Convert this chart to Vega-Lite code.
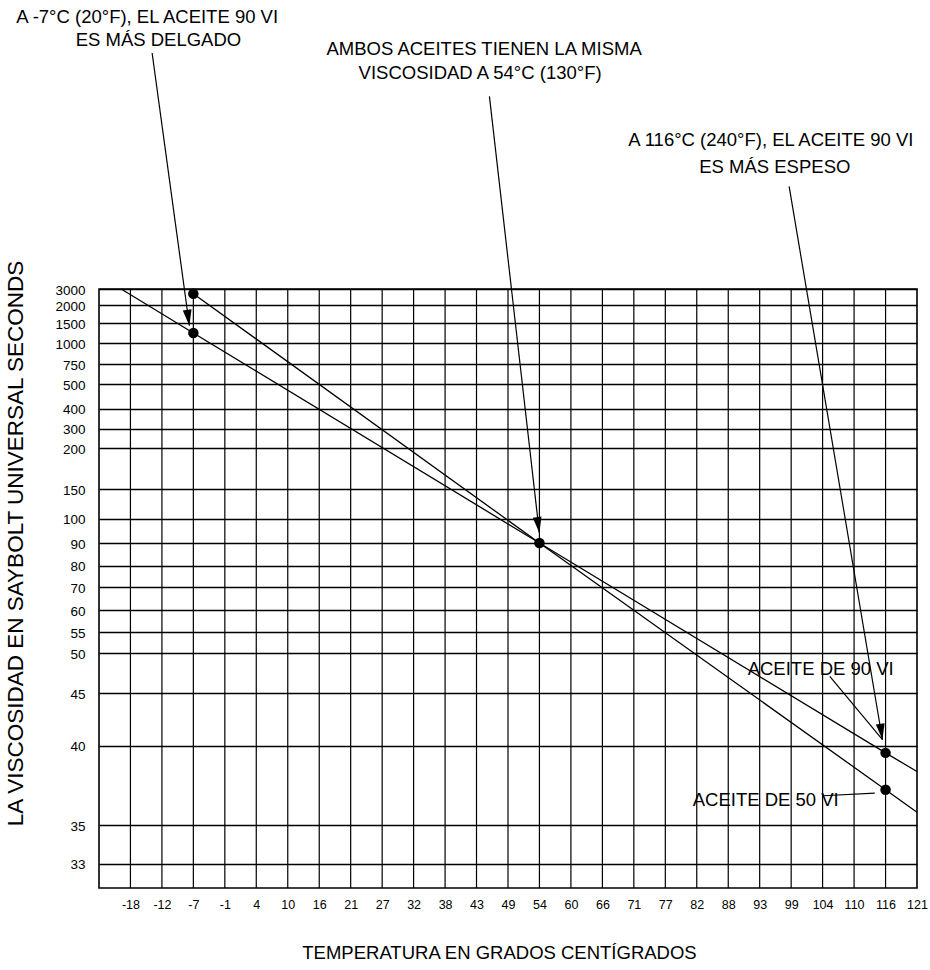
{
  "$schema": "https://vega.github.io/schema/vega-lite/v6.json",
  "width": 818,
  "height": 599,
  "autosize": "none",
  "padding": {"left": 99, "top": 289, "right": 13, "bottom": 82},
  "background": "white",
  "config": {
    "font": "Liberation Sans",
    "view": {"stroke": "black", "strokeWidth": 1.6}
  },
  "datasets": {
    "vgrid": [
      {"c": -17.78, "v": 32, "v2": 3000}, {"c": -12.22, "v": 32, "v2": 3000}, {"c": -6.67, "v": 32, "v2": 3000},
      {"c": -1.11, "v": 32, "v2": 3000}, {"c": 4.44, "v": 32, "v2": 3000}, {"c": 10, "v": 32, "v2": 3000},
      {"c": 15.56, "v": 32, "v2": 3000}, {"c": 21.11, "v": 32, "v2": 3000}, {"c": 26.67, "v": 32, "v2": 3000},
      {"c": 32.22, "v": 32, "v2": 3000}, {"c": 37.78, "v": 32, "v2": 3000}, {"c": 43.33, "v": 32, "v2": 3000},
      {"c": 48.89, "v": 32, "v2": 3000}, {"c": 54.44, "v": 32, "v2": 3000}, {"c": 60, "v": 32, "v2": 3000},
      {"c": 65.56, "v": 32, "v2": 3000}, {"c": 71.11, "v": 32, "v2": 3000}, {"c": 76.67, "v": 32, "v2": 3000},
      {"c": 82.22, "v": 32, "v2": 3000}, {"c": 87.78, "v": 32, "v2": 3000}, {"c": 93.33, "v": 32, "v2": 3000},
      {"c": 98.89, "v": 32, "v2": 3000}, {"c": 104.44, "v": 32, "v2": 3000}, {"c": 110, "v": 32, "v2": 3000},
      {"c": 115.56, "v": 32, "v2": 3000}
    ],
    "lines": [
      {"oil": "90 VI", "c": -19.42, "v": 3000},
      {"oil": "90 VI", "c": -6.67, "v": 1255},
      {"oil": "90 VI", "c": 54.44, "v": 90},
      {"oil": "90 VI", "c": 115.56, "v": 39.55},
      {"oil": "90 VI", "c": 121.11, "v": 38.38},
      {"oil": "50 VI", "c": -6.67, "v": 2706},
      {"oil": "50 VI", "c": 54.44, "v": 90},
      {"oil": "50 VI", "c": 115.56, "v": 37.24},
      {"oil": "50 VI", "c": 121.11, "v": 35.82}
    ],
    "dots": [
      {"c": -6.67, "v": 2706},
      {"c": -6.67, "v": 1255},
      {"c": 54.44, "v": 90},
      {"c": 115.56, "v": 39.55},
      {"c": 115.56, "v": 37.24}
    ],
    "arrows": [
      {"c": -13.95, "v": 8710, "c2": -7.37, "v2": 1441},
      {"c": 45.61, "v": 7660, "c2": 54.43, "v2": 94.12},
      {"c": 98.53, "v": 5483, "c2": 115.01, "v2": 40.57},
      {"c": 105.71, "v": 47.13, "c2": 115.01, "v2": 40.57},
      {"c": 104.53, "v": 36.86, "c2": 113.65, "v2": 37.03}
    ],
    "heads": [
      {"c": -7.37, "v": 1441},
      {"c": 54.43, "v": 94.12},
      {"c": 115.01, "v": 40.57}
    ],
    "labels": [
      {"label": "A -7°C (20°F), EL ACEITE 90 VI", "c": -14.83, "v": 9436},
      {"label": "ES MÁS DELGADO", "c": -12.84, "v": 8870},
      {"label": "AMBOS ACEITES TIENEN LA MISMA", "c": 44.67, "v": 8669},
      {"label": "VISCOSIDAD A 54°C (130°F)", "c": 43.97, "v": 8081},
      {"label": "A 116°C (240°F), EL ACEITE 90 VI", "c": 95.3, "v": 6450},
      {"label": "ES MÁS ESPESO", "c": 96.0, "v": 5807},
      {"label": "ACEITE DE 90 VI", "c": 104.1, "v": 47.34},
      {"label": "ACEITE DE 50 VI", "c": 94.4, "v": 36.19}
    ]
  },
  "encoding": {
    "x": {
      "field": "c",
      "type": "quantitative",
      "scale": {"domain": [-23.33, 121.11], "nice": false, "zero": false},
      "axis": {
        "values": [-17.78, -12.22, -6.67, -1.11, 4.44, 10, 15.56, 21.11, 26.67, 32.22, 37.78, 43.33, 48.89, 54.44, 60, 65.56, 71.11, 76.67, 82.22, 87.78, 93.33, 98.89, 104.44, 110, 115.56, 121.11],
        "labelExpr": "toString(round(datum.value))",
        "grid": false,
        "ticks": false,
        "domain": false,
        "labelPadding": 10,
        "labelFontSize": 12.5,
        "labelColor": "black",
        "labelFlush": false,
        "labelOverlap": false,
        "title": "TEMPERATURA EN GRADOS CENTÍGRADOS",
        "titleFontSize": 18.5,
        "titleFontWeight": "normal",
        "titleColor": "black",
        "titlePadding": 33,
        "titleX": 400
      }
    },
    "y": {
      "field": "v",
      "type": "quantitative",
      "scale": {
        "domain": [32, 33, 35, 40, 45, 50, 55, 60, 70, 80, 90, 100, 150, 200, 300, 400, 500, 750, 1000, 1500, 2000, 3000, 10000],
        "range": [599, 574.7, 536.4, 456.7, 404.4, 364.4, 343, 321.4, 298.4, 276.7, 254, 229.7, 200, 159.4, 139.7, 119.7, 95, 75, 54, 34.4, 16, 0, -289.3],
        "nice": false,
        "zero": false
      },
      "axis": {
        "values": [33, 35, 40, 45, 50, 55, 60, 70, 80, 90, 100, 150, 200, 300, 400, 500, 750, 1000, 1500, 2000, 3000],
        "format": "d",
        "grid": true,
        "gridColor": "black",
        "gridOpacity": 1,
        "gridWidth": 1.3,
        "ticks": false,
        "domain": false,
        "labelPadding": 14,
        "labelFontSize": 13.5,
        "labelColor": "black",
        "labelOverlap": false,
        "labelOffset": 1,
        "title": "LA VISCOSIDAD EN SAYBOLT UNIVERSAL SECONDS",
        "titleFontSize": 22.5,
        "titleFontWeight": "normal",
        "titleColor": "black",
        "titlePadding": 27,
        "titleY": 254
      }
    }
  },
  "layer": [
    {
      "data": {"name": "vgrid"},
      "mark": {"type": "rule", "color": "black", "strokeWidth": 1.2},
      "encoding": {"y2": {"field": "v2"}}
    },
    {
      "data": {"name": "lines"},
      "mark": {"type": "line", "color": "black", "strokeWidth": 1.3},
      "encoding": {"detail": {"field": "oil"}}
    },
    {
      "data": {"name": "arrows"},
      "mark": {"type": "rule", "color": "black", "strokeWidth": 1.2},
      "encoding": {"x2": {"field": "c2"}, "y2": {"field": "v2"}}
    },
    {
      "data": {"name": "heads"},
      "mark": {"type": "point", "shape": "M-0.55,-2L0.55,-2L0,0Z", "filled": true, "color": "black", "opacity": 1, "size": 256, "angle": 352}
    },
    {
      "data": {"name": "dots"},
      "mark": {"type": "point", "shape": "circle", "filled": true, "color": "black", "opacity": 1, "size": 110}
    },
    {
      "data": {"name": "labels"},
      "mark": {"type": "text", "fontSize": 18.5, "align": "center", "baseline": "alphabetic", "color": "black"},
      "encoding": {"text": {"field": "label"}}
    }
  ]
}
